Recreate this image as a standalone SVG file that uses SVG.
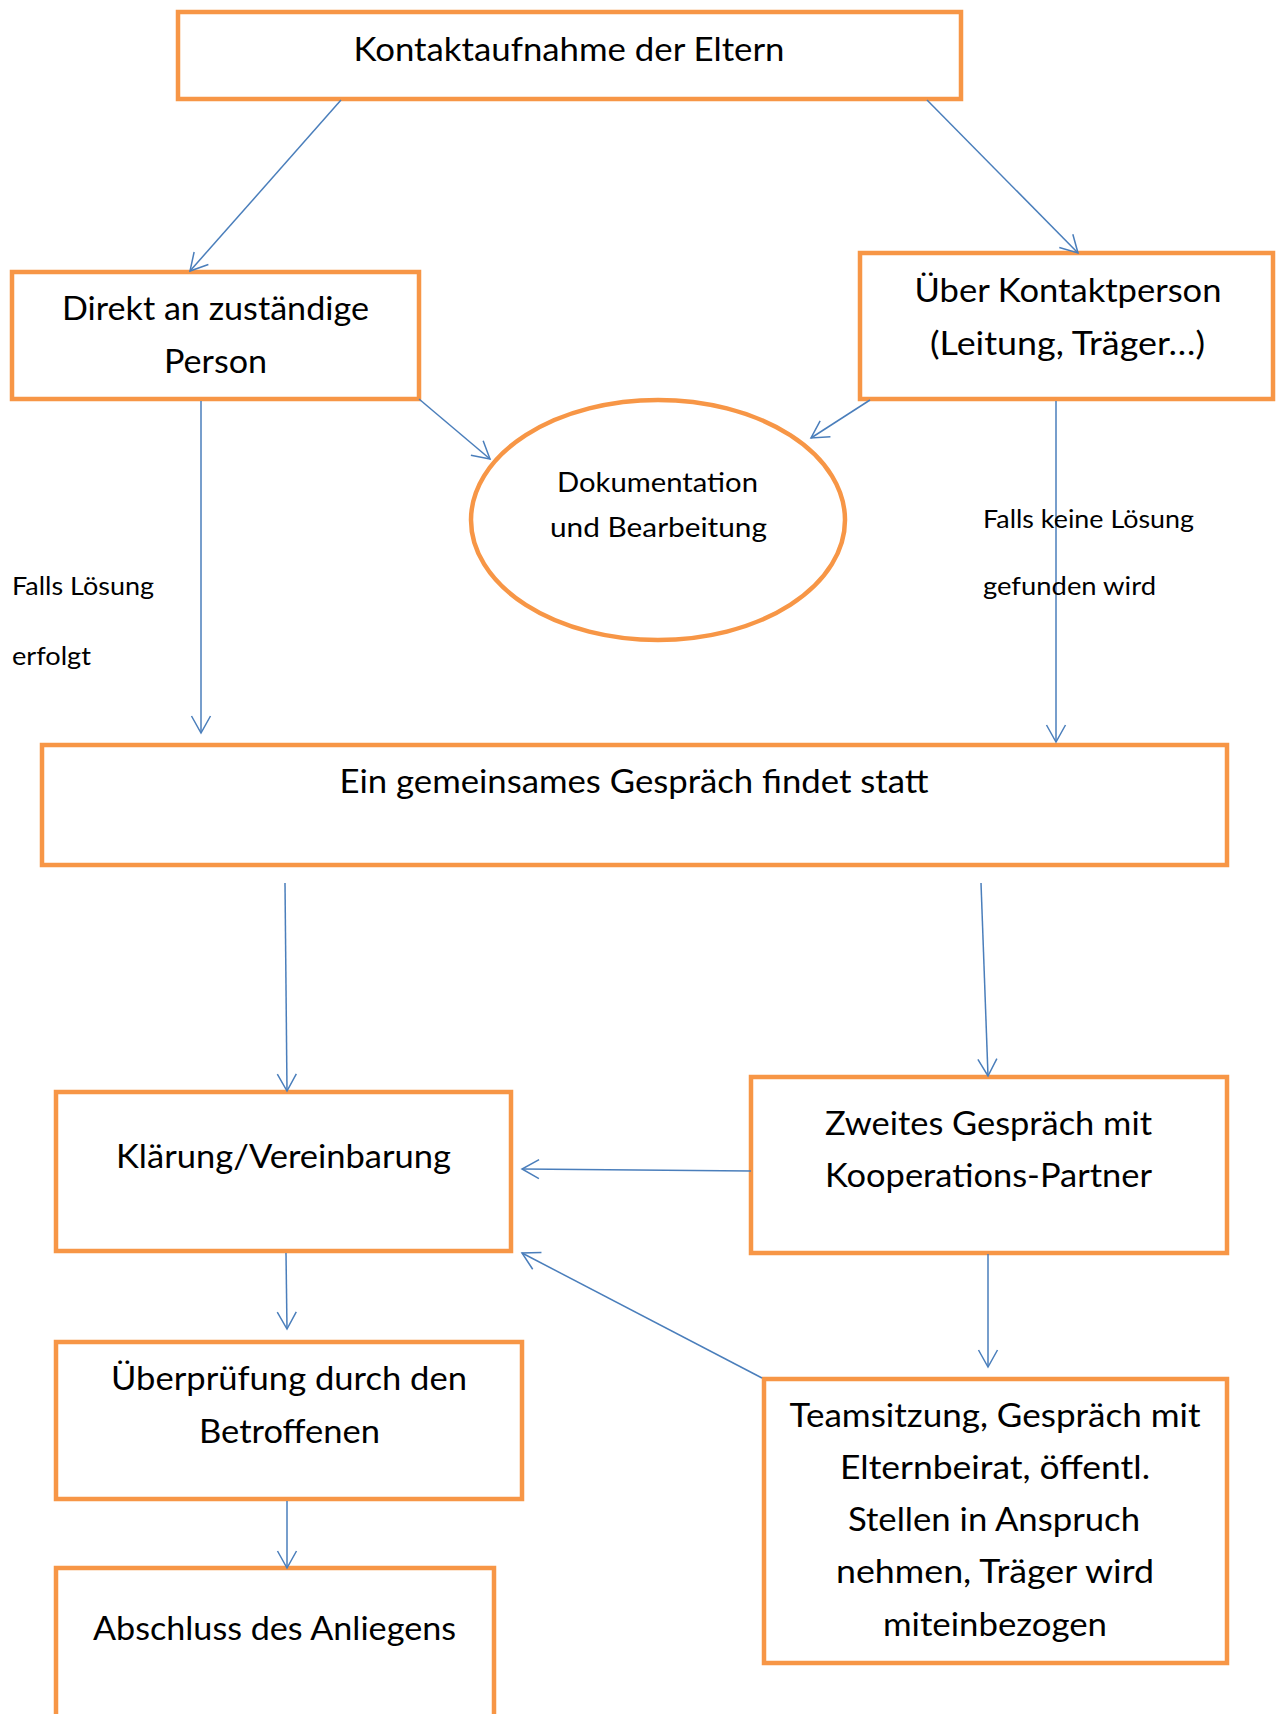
<svg xmlns="http://www.w3.org/2000/svg" width="1277" height="1714" viewBox="0 0 1277 1714">
<style>
.box{fill:#ffffff;stroke:#F79646;stroke-width:4.5}
.t{font-family:Lato,"Noto Sans","DejaVu Sans",sans-serif;font-size:33px;fill:#000;text-anchor:middle}
.s{font-family:Lato,"Noto Sans","DejaVu Sans",sans-serif;font-size:25px;fill:#000}
.e{font-family:Lato,"Noto Sans","DejaVu Sans",sans-serif;font-size:27px;fill:#000;text-anchor:middle}
.c{fill:none;stroke:#4A7EBB;stroke-width:1.5;marker-end:url(#arr)}
</style>
<defs>
<marker id="arr" markerUnits="userSpaceOnUse" markerWidth="40" markerHeight="40" refX="0" refY="0" viewBox="-20 -20 40 40" orient="auto" overflow="visible">
<path d="M-17,-9.5 L0,0 L-17,9.5" fill="none" stroke="#4A7EBB" stroke-width="1.5"/>
</marker>
</defs>
<rect width="1277" height="1714" fill="#ffffff"/>

<g id="n-kontakt">
<rect class="box" x="178" y="12" width="783" height="87"/>
<text class="t" x="569" y="61" textLength="431" lengthAdjust="spacingAndGlyphs">Kontaktaufnahme der Eltern</text>
</g>
<g id="n-direkt">
<rect class="box" x="12" y="272" width="407" height="127"/>
<text class="t" x="215.5" y="320" textLength="307" lengthAdjust="spacingAndGlyphs">Direkt an zuständige</text>
<text class="t" x="215.5" y="373" textLength="103" lengthAdjust="spacingAndGlyphs">Person</text>
</g>
<g id="n-ueber">
<rect class="box" x="860" y="253" width="413" height="146"/>
<text class="t" x="1068" y="302" textLength="307" lengthAdjust="spacingAndGlyphs">Über Kontaktperson</text>
<text class="t" x="1067.5" y="355" textLength="275" lengthAdjust="spacingAndGlyphs">(Leitung, Träger…)</text>
</g>
<g id="n-doku">
<ellipse cx="658" cy="520" rx="187" ry="120" fill="#ffffff" stroke="#F79646" stroke-width="4.5"/>
<text class="e" x="657.5" y="492" textLength="201" lengthAdjust="spacingAndGlyphs">Dokumentation</text>
<text class="e" x="658.5" y="537" textLength="217" lengthAdjust="spacingAndGlyphs">und Bearbeitung</text>
</g>
<g id="n-gespraech">
<rect class="box" x="42" y="745" width="1185" height="120"/>
<text class="t" x="634" y="793" textLength="589" lengthAdjust="spacingAndGlyphs">Ein gemeinsames Gespräch findet statt</text>
</g>
<g id="n-klaerung">
<rect class="box" x="56" y="1092" width="455" height="159"/>
<text class="t" x="283.5" y="1168" textLength="335" lengthAdjust="spacingAndGlyphs">Klärung/Vereinbarung</text>
</g>
<g id="n-zweites">
<rect class="box" x="751" y="1077" width="476" height="176"/>
<text class="t" x="988.5" y="1135" textLength="327" lengthAdjust="spacingAndGlyphs">Zweites Gespräch mit</text>
<text class="t" x="988.5" y="1187" textLength="327" lengthAdjust="spacingAndGlyphs">Kooperations-Partner</text>
</g>
<g id="n-ueberpruefung">
<rect class="box" x="56" y="1342" width="466" height="157"/>
<text class="t" x="289" y="1390" textLength="356" lengthAdjust="spacingAndGlyphs">Überprüfung durch den</text>
<text class="t" x="289.5" y="1443" textLength="181" lengthAdjust="spacingAndGlyphs">Betroffenen</text>
</g>
<g id="n-abschluss">
<rect class="box" x="56" y="1568" width="438" height="170"/>
<text class="t" x="274.5" y="1640" textLength="363" lengthAdjust="spacingAndGlyphs">Abschluss des Anliegens</text>
</g>
<g id="n-team">
<rect class="box" x="764" y="1379" width="463" height="284"/>
<text class="t" x="995" y="1427" textLength="411" lengthAdjust="spacingAndGlyphs">Teamsitzung, Gespräch mit</text>
<text class="t" x="995" y="1479" textLength="310" lengthAdjust="spacingAndGlyphs">Elternbeirat, öffentl.</text>
<text class="t" x="994" y="1531" textLength="292" lengthAdjust="spacingAndGlyphs">Stellen in Anspruch</text>
<text class="t" x="995" y="1583" textLength="318" lengthAdjust="spacingAndGlyphs">nehmen, Träger wird</text>
<text class="t" x="995" y="1636" textLength="224" lengthAdjust="spacingAndGlyphs">miteinbezogen</text>
</g>

<g id="connectors">
<line class="c" x1="341" y1="100" x2="190" y2="271"/>
<line class="c" x1="927" y1="100" x2="1078" y2="253"/>
<line class="c" x1="419" y1="399" x2="490" y2="459"/>
<line class="c" x1="870" y1="400" x2="811" y2="438"/>
<line class="c" x1="201" y1="401" x2="201" y2="733"/>
<line class="c" x1="1056" y1="401" x2="1056" y2="742"/>
<line class="c" x1="285" y1="883" x2="287" y2="1091"/>
<line class="c" x1="981" y1="883" x2="988" y2="1076"/>
<line class="c" x1="751" y1="1171" x2="522" y2="1169"/>
<line class="c" x1="762" y1="1378" x2="522" y2="1253"/>
<line class="c" x1="988" y1="1254" x2="988" y2="1367"/>
<line class="c" x1="286" y1="1253" x2="287" y2="1329"/>
<line class="c" x1="287" y1="1501" x2="287" y2="1568"/>
</g>

<g id="labels">
<text class="s" x="12" y="595" textLength="142" lengthAdjust="spacingAndGlyphs">Falls Lösung</text>
<text class="s" x="12" y="665" textLength="79" lengthAdjust="spacingAndGlyphs">erfolgt</text>
<text class="s" x="983" y="528" textLength="211" lengthAdjust="spacingAndGlyphs">Falls keine Lösung</text>
<text class="s" x="983" y="595" textLength="173" lengthAdjust="spacingAndGlyphs">gefunden wird</text>
</g>
</svg>
